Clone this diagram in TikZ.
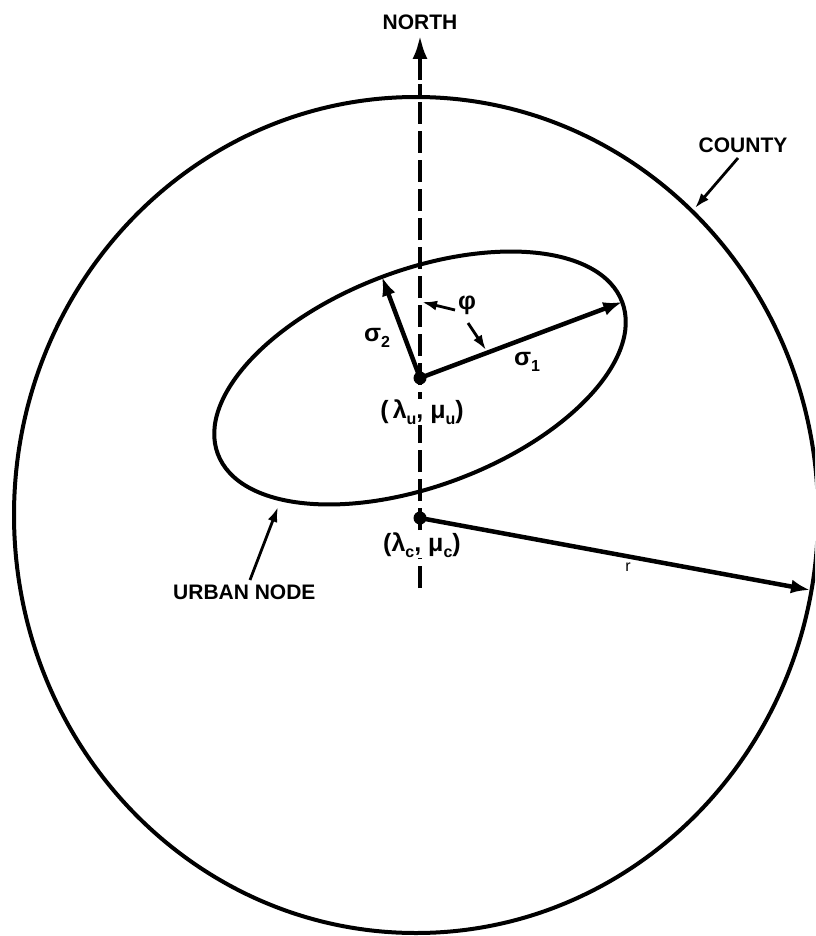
\documentclass[tikz,border=0pt]{standalone}
\usepackage{fontspec}
\setmainfont{Liberation Sans}
\usetikzlibrary{arrows.meta}
\newcommand\lsub[1]{\raisebox{-0.45ex}{\fontsize{16pt}{16pt}\selectfont #1}}
\begin{document}
\begin{tikzpicture}[x=1pt,y=-1pt,
  thickline/.style={line width=4pt},
  vec/.style={line width=4.5pt, -{Latex[length=19pt,width=14pt]}},
  leader/.style={line width=2.8pt, -{Latex[length=15pt,width=10pt]}},
  lbl/.style={font=\fontsize{21pt}{21pt}\selectfont\bfseries, inner sep=1pt},
  glbl/.style={font=\fontsize{25pt}{25pt}\selectfont\bfseries, inner sep=1pt},
  dot/.style={circle, fill=black, inner sep=0pt, minimum size=13pt}]
\useasboundingbox (0,0) rectangle (815,936);
\clip (0,0) rectangle (815,936);
% key points
\coordinate (Nb) at (420,588);
\coordinate (Nd) at (420,84);
\coordinate (Ns) at (420,80);
\coordinate (Nt) at (420,35);
\coordinate (S1) at (622.2,302);
\coordinate (S2) at (382,276.9);
\coordinate (R) at (810,590);
% county and urban node outlines
\draw[thickline] (416,515) ellipse [x radius=402pt, y radius=418pt];
\draw[thickline, shift={(420,378)}, rotate=20.6] (0,0) ellipse [x radius=216pt, y radius=108pt];
% north axis
\draw[line width=4.5pt, dash pattern=on 22pt off 7pt] (Nb) -- (Nd);
\draw[line width=4.5pt, -{Latex[length=24pt,width=15pt]}] (Ns) -- (Nt);
% labels
\node[lbl] (north) at (420,22) {NORTH};
\node[lbl] (county) at (743,145) {COUNTY};
\node[lbl, anchor=west] (urban) at (172,592) {URBAN NODE};
\node[glbl] (sig2) at (377,338) {σ\lsub{2}};
\node[glbl] (sig1) at (527,362) {σ\lsub{1}};
\node[glbl] (phi) at (467,305) {φ};
\node[glbl, fill=white] (lu) at (422,412) {(\,λ\lsub{u}, μ\lsub{u})};
\node[glbl, fill=white] (lc) at (422,545) {(λ\lsub{c}, μ\lsub{c})};
\node[font=\fontsize{16pt}{16pt}\selectfont] (rl) at (628,567) {r};
% centres
\node[dot] (U) at (420,378) {};
\node[dot] (C) at (420,518) {};
% vectors
\draw[vec] (U.center) -- (S1);
\draw[vec] (U.center) -- (S2);
\draw[vec] (C.center) -- (R);
% leaders
\coordinate (p1) at (422,302);
\coordinate (p2) at (486,350);
\coordinate (ct) at (695,208);
\coordinate (ut) at (278,507);
\draw[leader] (455,310) -- (p1);
\draw[leader] (468,323) -- (p2);
\draw[leader] (738,158) -- (ct);
\draw[leader] (250,580) -- (ut);
\end{tikzpicture}
\end{document}
